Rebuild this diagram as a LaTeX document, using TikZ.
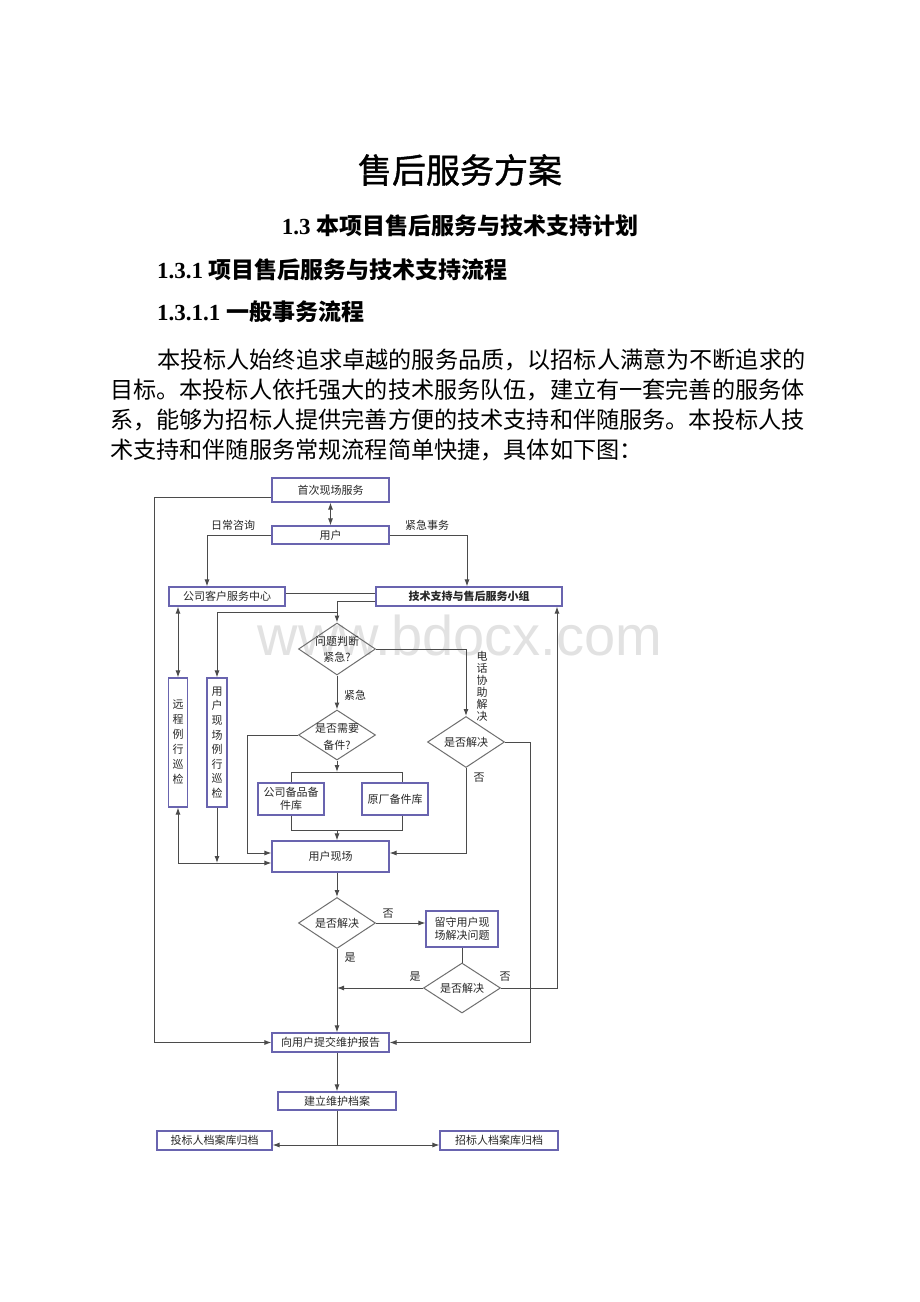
\documentclass[tikz,border=0pt]{standalone}
\usepackage{fontspec}
\setmainfont{Liberation Serif}
\newfontfamily\cjk{Noto Sans CJK SC}
\newfontfamily\cjktitle{Noto Sans CJK SC}[FakeBold=1.2]
\newfontfamily\wmfont{Liberation Sans}
\usetikzlibrary{arrows.meta,shapes.geometric,calc}
\definecolor{boxc}{RGB}{105,100,175}
\definecolor{linec}{RGB}{75,75,75}
\definecolor{txtc}{RGB}{40,40,40}
\definecolor{wmc}{RGB}{226,226,226}
\begin{document}
\begin{tikzpicture}[x=1pt,y=-1pt,
  box/.style={draw=boxc,line width=1.1pt,inner sep=0pt,align=center,text=txtc,
    font=\cjk\fontsize{11}{13}\selectfont},
  dia/.style={diamond,draw=linec!80,line width=1pt,inner sep=0pt},
  lbl/.style={inner sep=0pt,text=txtc,font=\cjk\fontsize{11}{13}\selectfont,align=center},
  line/.style={draw=linec,line width=1pt},
  arr/.style={line,-{Latex[length=7pt,width=5pt]}},
  arrboth/.style={line,{Latex[length=7pt,width=5pt]}-{Latex[length=7pt,width=5pt]}},
  body/.style={inner sep=0pt,anchor=west,text=black,font=\cjk\fontsize{23.15}{30}\selectfont}]
\useasboundingbox (0,0) rectangle (920,1302);
\fill[white] (0,0) rectangle (920,1302);

% watermark
\node[inner sep=0pt,text=wmc,font=\wmfont\fontsize{56}{60}\selectfont] (wm) at (460,635) {www.bdocx.com};

% header text
\node[inner sep=0pt,text=black,font=\cjktitle\fontsize{34}{40}\selectfont] (title) at (460,170) {售后服务方案};
\node[inner sep=0pt,text=black,font=\fontsize{23}{28}\selectfont] (h1) at (460,226) {\textbf{1.3} {\cjk\bfseries 本项目售后服务与技术支持计划}};
\node[inner sep=0pt,anchor=west,text=black,font=\fontsize{23}{28}\selectfont] (h2) at (157,270) {\textbf{1.3.1} {\cjk\bfseries 项目售后服务与技术支持流程}};
\node[inner sep=0pt,anchor=west,text=black,font=\fontsize{23}{28}\selectfont] (h3) at (157,312) {\textbf{1.3.1.1} {\cjk\bfseries 一般事务流程}};
\node[body] (p1) at (157,360) {本投标人始终追求卓越的服务品质，以招标人满意为不断追求的};
\node[body] (p2) at (110,390) {目标。本投标人依托强大的技术服务队伍，建立有一套完善的服务体};
\node[body] (p3) at (110,420) {系，能够为招标人提供完善方便的技术支持和伴随服务。本投标人技};
\node[body] (p4) at (110,450) {术支持和伴随服务常规流程简单快捷，具体如下图：};

% flowchart nodes
\node[box,minimum width=117pt,minimum height=24pt] (n1) at (330.5,490) {首次现场服务};
\node[box,minimum width=117pt,minimum height=18pt] (n2) at (330.5,535) {用户};
\node[box,minimum width=116pt,minimum height=19pt] (n3) at (227,596.5) {公司客户服务中心};
\node[box,minimum width=186pt,minimum height=19pt,font=\cjk\bfseries\fontsize{11}{13}\selectfont] (n4) at (469,596.5) {技术支持与售后服务小组};

\node[dia,minimum width=77pt,minimum height=52pt] (d1) at (337,649) {};
\node[lbl,font=\cjk\fontsize{11}{16}\selectfont] (d1t) at (d1) {问题判断\\紧急?};
\node[dia,minimum width=77pt,minimum height=50pt] (d2) at (337,735) {};
\node[lbl,font=\cjk\fontsize{11}{17}\selectfont] (d2t) at (337,737) {是否需要\\备件?};
\node[dia,minimum width=77pt,minimum height=51pt] (d3) at (466,742) {};
\node[lbl] (d3t) at (d3) {是否解决};

\node[box,minimum width=66pt,minimum height=32pt] (b1) at (291,799) {公司备品备\\件库};
\node[box,minimum width=66pt,minimum height=32pt] (b2) at (395,799) {原厂备件库};

\node[box,minimum width=19pt,minimum height=129pt,font=\cjk\fontsize{11}{15}\selectfont] (v1) at (178,742.5) {远\\程\\例\\行\\巡\\检};
\node[box,minimum width=20pt,minimum height=129pt,font=\cjk\fontsize{11}{14.6}\selectfont] (v2) at (217,742.5) {用\\户\\现\\场\\例\\行\\巡\\检};

\node[box,minimum width=117pt,minimum height=31pt] (n5) at (330.5,856.5) {用户现场};
\node[dia,minimum width=77pt,minimum height=51pt] (d4) at (337,923) {};
\node[lbl] (d4t) at (d4) {是否解决};
\node[box,minimum width=72pt,minimum height=36pt] (b3) at (462,929) {留守用户现\\场解决问题};
\node[dia,minimum width=77pt,minimum height=50pt] (d5) at (462,988) {};
\node[lbl] (d5t) at (d5) {是否解决};

\node[box,minimum width=117pt,minimum height=19pt] (n6) at (330.5,1042.5) {向用户提交维护报告};
\node[box,minimum width=118pt,minimum height=18pt] (n7) at (337,1101) {建立维护档案};
\node[box,minimum width=115pt,minimum height=19pt] (n8) at (214.5,1140.5) {投标人档案库归档};
\node[box,minimum width=118pt,minimum height=19pt] (n9) at (499,1140.5) {招标人档案库归档};

% connectors
\draw[arrboth] (n1.south) -- (n2.north);
\draw[arr] ([yshift=-7pt]n1.west) -- ++(-117,0) |- (n6.west);
\draw[arr] (n2.west) -| ([xshift=-20pt]n3.north);
\node[lbl] (l1) at (233,525) {日常咨询};
\draw[arr] (n2.east) -| ([xshift=-2pt]n4.north);
\node[lbl] (l2) at (427,525) {紧急事务};
\draw[line] ([yshift=3.5pt]n3.east) -- ([yshift=3.5pt]n4.west);
\draw[arr] ([yshift=-4.5pt]n4.west) -| (d1.north);
\coordinate (j2) at (337,612);
\draw[arr] (j2) -| (v2.north);
\draw[arrboth] (v1.north |- n3.south) -- (v1.north);

\draw[arr] (d1.east) -| (d3.north);
\node[lbl,font=\cjk\fontsize{11}{12}\selectfont] (l3) at (482,686) {电\\话\\协\\助\\解\\决};
\draw[arr] (d1.south) -- (d2.north);
\node[lbl,anchor=west] (l4) at (344,695) {紧急};

\draw[arr] (d2.west) -- ++(-51,0) |- ([yshift=3.5pt]n5.west);
\coordinate (t1) at (337,772);
\draw[arr] (d2.south) -- (t1);
\draw[line] (b1.north) |- (t1) -| ([xshift=7pt]b2.north);
\coordinate (t2) at (337,830);
\draw[line] (b1.south) |- (t2) -| ([xshift=7pt]b2.south);
\draw[arr] (t2) -- (t2 |- n5.north);

\draw[arr] (d3.south) |- ([yshift=3.5pt]n5.east);
\node[lbl] (l5) at (479,778) {否};
\draw[arr] (d3.east) -- ++(25,0) |- (n6.east);

\coordinate (k1) at (178,863);
\draw[arr] (k1) -- (v1.south);
\draw[arr] (k1) -- ([yshift=-6.5pt]n5.west);
\draw[arr] (v2.south) -- (v2.south |- k1);

\draw[arr] (d4.north |- n5.south) -- (d4.north);
\draw[arr] (d4.east) -- (d4.east -| b3.west);
\node[lbl] (l6) at (388,914) {否};
\draw[line] (b3.south) -- (d5.north);
\draw[arr] (d5.west) -- (d5.west -| d4.south);
\node[lbl] (l7) at (415,977) {是};
\draw[arr] (d5.east) -| ([xshift=88pt]n4.south);
\node[lbl] (l8) at (505,977) {否};
\draw[arr] (d4.south) -- (d4.south |- n6.north);
\node[lbl] (l9) at (350,958) {是};

\draw[arr] (n7.north |- n6.south) -- (n7.north);
\coordinate (m1) at (337,1145);
\draw[line] (n7.south) -- (m1);
\draw[arr] (m1) -- (m1 -| n8.east);
\draw[arr] (m1) -- (m1 -| n9.west);
\end{tikzpicture}
\end{document}
